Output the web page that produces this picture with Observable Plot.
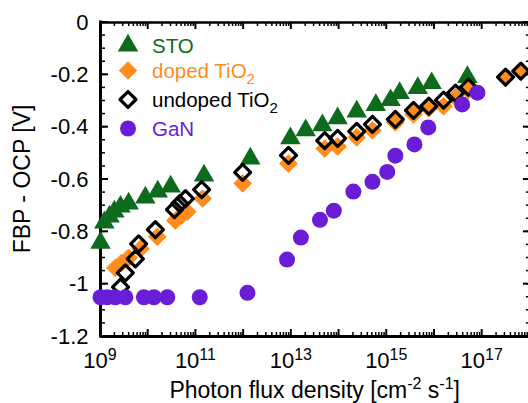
<!DOCTYPE html>
<html><head><meta charset="utf-8">
<script src="https://cdn.jsdelivr.net/npm/d3@7"></script>
<script src="https://cdn.jsdelivr.net/npm/@observablehq/plot@0.6"></script>
<style>
html,body{margin:0;padding:0;background:#fff;overflow:hidden}
svg{display:block}
</style></head><body><div id="chart"></div>
<script>
// ---- data (log10 of photon flux density, FBP - OCP in V) ----
const stoLogFlux = [9.0, 9.08, 9.19, 9.29, 9.42, 9.59, 9.94, 10.20, 10.47, 11.17, 12.14, 12.98, 13.30, 13.65, 13.97, 14.37, 14.77, 15.08, 15.27, 15.65, 15.94, 16.69];
const stoV       = [-0.842, -0.765, -0.742, -0.723, -0.704, -0.692, -0.669, -0.646, -0.627, -0.585, -0.520, -0.443, -0.412, -0.393, -0.366, -0.340, -0.316, -0.297, -0.270, -0.251, -0.232, -0.209];

const dopedLogFlux = [9.31, 9.44, 9.59, 9.84, 10.19, 10.57, 10.70, 10.82, 11.14, 11.98, 12.94, 13.70, 13.97, 14.37, 14.70, 15.18, 15.56, 15.88, 16.19, 16.44, 16.71, 17.49, 17.81];
const dopedV       = [-0.938, -0.919, -0.899, -0.865, -0.819, -0.757, -0.738, -0.723, -0.673, -0.615, -0.539, -0.482, -0.474, -0.439, -0.412, -0.382, -0.351, -0.328, -0.320, -0.286, -0.259, -0.209, -0.186];

const undopedLogFlux = [9.42, 9.52, 9.73, 9.80, 10.15, 10.55, 10.66, 10.78, 11.12, 11.98, 12.94, 13.70, 13.97, 14.37, 14.70, 15.18, 15.56, 15.88, 16.19, 16.44, 16.71, 17.49, 17.81];
const undopedV       = [-1.011, -0.957, -0.903, -0.846, -0.792, -0.715, -0.692, -0.673, -0.639, -0.573, -0.508, -0.451, -0.443, -0.416, -0.389, -0.370, -0.336, -0.320, -0.297, -0.270, -0.247, -0.209, -0.186];

const ganLogFlux = [9.0, 9.14, 9.31, 9.52, 9.91, 10.12, 10.40, 11.08, 12.08, 12.91, 13.20, 13.60, 13.89, 14.30, 14.70, 15.01, 15.18, 15.58, 15.87, 16.58, 16.90];
const ganV       = [-1.050, -1.050, -1.050, -1.050, -1.050, -1.050, -1.050, -1.050, -1.033, -0.906, -0.822, -0.754, -0.719, -0.646, -0.609, -0.571, -0.509, -0.466, -0.401, -0.313, -0.268];

const seriesNames = ["STO", "doped TiO", "undoped TiO", "GaN"];
const seriesSubs  = ["", "2", "2", ""];
const yTicks = [0, -0.2, -0.4, -0.6, -0.8, -1, -1.2];
const yTickLabels = ["0", "-0.2", "-0.4", "-0.6", "-0.8", "-1", "-1.2"];
const xTickExponents = [9, 11, 13, 15, 17];
const xTitle = ["Photon flux density [cm", "-2", " s", "-1", "]"];
const yTitle = "FBP - OCP [V]";

// ---- styling ----
const GREEN = "#0e6b1d", ORANGE = "#ff8c1c", PURPLE = "#6a1dd6";
const FONT = "'Liberation Sans', Arial, Helvetica, sans-serif";
const W = 528, H = 403, ML = 100, MR = 0, MT = 22, MB = 67;
const XR = 529.4;
const R_TRI = 7.6, R_DOPED = 7.9, R_UNDOPED = 7.2, R_GAN = 8, SW_UNDOPED = 3.2;

const toRows = (lf, v) => lf.map((e, i) => ({flux: 10 ** e, v: v[i]}));
const sto = toRows(stoLogFlux, stoV);
const doped = toRows(dopedLogFlux, dopedV);
const undoped = toRows(undopedLogFlux, undopedV);
const gan = toRows(ganLogFlux, ganV);

const xMajor = d3.range(9, 19).map(e => 10 ** e);
const xMinor = d3.range(9, 18).flatMap(e => d3.range(2, 10).map(k => k * 10 ** e));
const yMinor = d3.range(0, 25).map(i => -i * 0.05);
const yLabelMap = new Map(yTicks.map((t, i) => [t, yTickLabels[i]]));

const plot = Plot.plot({
  width: W, height: H,
  marginLeft: ML, marginRight: MR, marginTop: MT, marginBottom: MB,
  style: {fontFamily: FONT, fontSize: "22px", color: "black", background: "white"},
  x: {type: "log", domain: [1e9, 1e18], range: [ML, XR], axis: null},
  y: {domain: [-1.2, 0], label: null},
  marks: [
    Plot.ruleY([-1.2], {strokeWidth: 3}),
    Plot.ruleY([0], {strokeWidth: 2.5}),
    Plot.ruleX([1e9], {strokeWidth: 3, strokeLinecap: "square"}),
    Plot.axisY(yTicks, {tickSize: 0, tickPadding: 12, fontSize: 22, tickFormat: d => yLabelMap.get(d)}),
    Plot.dot(sto, {x: "flux", y: "v", symbol: "triangle", r: R_TRI, fill: GREEN, stroke: "none"}),
    Plot.dot(doped, {x: "flux", y: "v", symbol: "diamond2", r: R_DOPED, fill: ORANGE, stroke: ORANGE, strokeWidth: 1, strokeLinejoin: "round"}),
    Plot.dot(undoped, {x: "flux", y: "v", symbol: "diamond2", r: R_UNDOPED, fill: "none", stroke: "black", strokeWidth: SW_UNDOPED, strokeLinejoin: "round"}),
    Plot.dot(gan, {x: "flux", y: "v", r: R_GAN, fill: PURPLE, stroke: "none"})
  ]
});

document.getElementById("chart").appendChild(plot);
const svg = d3.select(plot);
const xs = plot.scale("x"), ys = plot.scale("y");
const yBot = ys.apply(-1.2), yTop = ys.apply(0), xLeft = xs.apply(1e9);

// inward ticks, placed through the plot's scales (inserted beneath the data marks)
const gt = svg.insert("g", ":first-child").attr("stroke", "black").attr("fill", "none");
const tick = (x1, y1, x2, y2, w) => gt.append("line").attr("x1", x1).attr("y1", y1).attr("x2", x2).attr("y2", y2).attr("stroke-width", w);
xMinor.forEach(v => { const px = xs.apply(v); tick(px, yBot, px, yBot - 4, 1.5); tick(px, yTop, px, yTop + 4, 1.5); });
xMajor.forEach(v => { const px = xs.apply(v); tick(px, yBot, px, yBot - 7, 2); tick(px, yTop, px, yTop + 7, 2); });
yMinor.forEach(v => { const py = ys.apply(v); tick(xLeft, py, xLeft + 5, py, 1.5); tick(XR, py, XR - 3.5, py, 1.5); });
yTicks.forEach(v => { const py = ys.apply(v); tick(xLeft, py, xLeft + 8, py, 2); tick(XR, py, XR - 6.5, py, 2); });

// x tick labels 10^n
const gx = svg.append("g").attr("font-family", FONT).attr("fill", "black");
xTickExponents.forEach(e => {
  const t = gx.append("text").attr("x", xs.apply(10 ** e)).attr("y", 368)
    .attr("text-anchor", "middle").attr("font-size", 22);
  t.append("tspan").text("10");
  t.append("tspan").attr("dy", -8).attr("font-size", 16).text(e);
});

// axis titles
const tx = gx.append("text").attr("x", (ML + XR) / 2).attr("y", 398)
  .attr("text-anchor", "middle").attr("font-size", 23);
tx.append("tspan").text(xTitle[0]);
tx.append("tspan").attr("dy", -9).attr("font-size", 16).text(xTitle[1]);
tx.append("tspan").attr("dy", 9).text(xTitle[2]);
tx.append("tspan").attr("dy", -9).attr("font-size", 16).text(xTitle[3]);
tx.append("tspan").attr("dy", 9).text(xTitle[4]);

gx.append("text").attr("transform", `translate(30,${(yTop + yBot) / 2}) rotate(-90)`)
  .attr("text-anchor", "middle").attr("font-size", 23).text(yTitle);

// legend
const legendColors = [GREEN, ORANGE, "black", PURPLE];
const legendRowY = [45.5, 70.5, 99.5, 128.5];
const symSize = r => Math.PI * r * r;
const legendSyms = [
  {type: d3.symbolTriangle, r: R_TRI, fill: GREEN, stroke: "none", sw: 0},
  {type: d3.symbolDiamond2, r: R_DOPED, fill: ORANGE, stroke: ORANGE, sw: 1},
  {type: d3.symbolDiamond2, r: R_UNDOPED, fill: "none", stroke: "black", sw: SW_UNDOPED},
  {type: d3.symbolCircle, r: R_GAN, fill: PURPLE, stroke: "none", sw: 0}
];
const lg = svg.append("g").attr("font-family", FONT).attr("font-size", 20.5).attr("text-anchor", "start");
seriesNames.forEach((name, i) => {
  const s = legendSyms[i];
  lg.append("path").attr("transform", `translate(128,${legendRowY[i]})`)
    .attr("d", d3.symbol(s.type, symSize(s.r))())
    .attr("fill", s.fill).attr("stroke", s.stroke).attr("stroke-width", s.sw)
    .attr("stroke-linejoin", "round");
  const t = lg.append("text").attr("x", 152).attr("y", legendRowY[i] + 7.5)
    .attr("text-anchor", "start").attr("fill", legendColors[i]);
  t.append("tspan").text(name);
  if (seriesSubs[i]) t.append("tspan").attr("dy", 6).attr("font-size", 15).text(seriesSubs[i]);
});
</script>
</body></html>
